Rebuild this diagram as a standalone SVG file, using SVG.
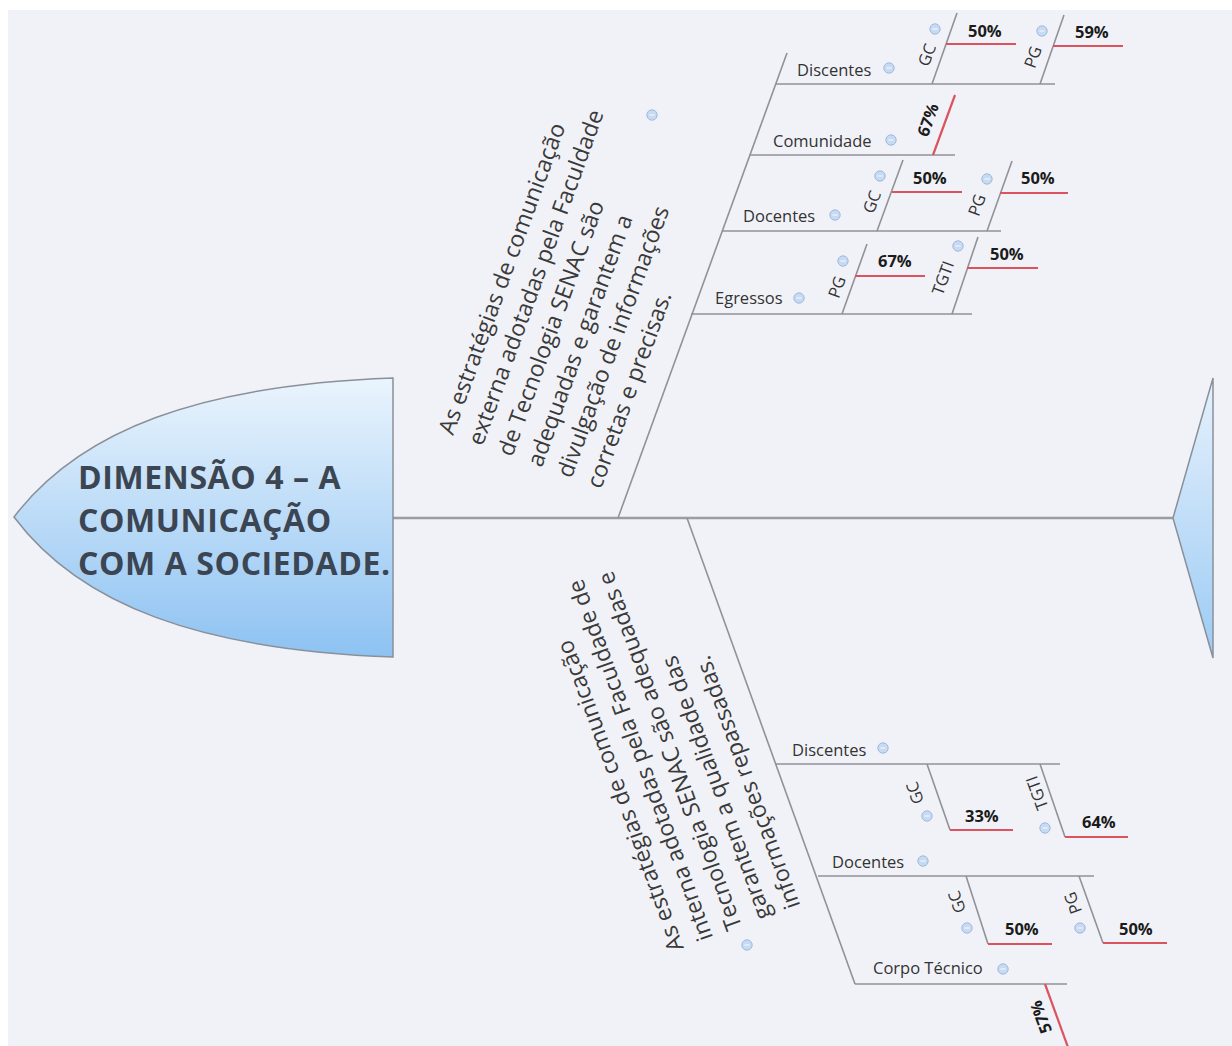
<svg xmlns="http://www.w3.org/2000/svg" xmlns:xlink="http://www.w3.org/1999/xlink" width="1232" height="1046" viewBox="0 0 1232 1046">
<style>
.bone{stroke:#8f9297;stroke-width:1.6;fill:none}
.spine{stroke:#9a9da2;stroke-width:2.5;fill:none}
.red{stroke:#dc5360;stroke-width:2.2;fill:none}
.lbl{font-family:"Open Sans","Noto Sans",sans-serif;font-size:16.5px;fill:#333}
.pct{font-family:"Open Sans","Noto Sans",sans-serif;font-size:16.5px;font-weight:bold;fill:#1b1b1b}
.big{font-family:"Open Sans","Noto Sans",sans-serif;font-size:23px;fill:#3a3a3a}
.title{font-family:"Open Sans","Noto Sans",sans-serif;font-size:32px;font-weight:bold;letter-spacing:0.6px;fill:#3c4552}
.mid{text-anchor:middle}
</style>
<defs>
<linearGradient id="headGrad" x1="0" y1="0" x2="0" y2="1">
<stop offset="0" stop-color="#eaf4fd"/>
<stop offset="1" stop-color="#8dc2f2"/>
</linearGradient>
<linearGradient id="tailGrad" x1="0" y1="0" x2="0" y2="1">
<stop offset="0" stop-color="#e6f1fc"/>
<stop offset="1" stop-color="#9ccbf4"/>
</linearGradient>
<g id="ic"><circle r="5.2" fill="#c7daf1" stroke="#9fbbe2" stroke-width="1"/><line x1="-2.6" y1="0" x2="2.6" y2="0" stroke="#eef4fc" stroke-width="1.3"/></g>
</defs>
<rect x="0" y="0" width="1232" height="1046" fill="#ffffff"/>
<rect x="8" y="10" width="1224" height="1036" fill="#f1f2f7"/>

<g id="connectors">
<line class="spine" x1="393" y1="518" x2="1173" y2="518"/>
<line class="bone" x1="618" y1="518" x2="787" y2="53"/>
<line class="bone" x1="687" y1="518" x2="855" y2="984"/>
</g>

<g id="head">
<path d="M14,517 C80,430 200,385 393,378 L393,657 C200,650 80,605 14,517 Z" fill="url(#headGrad)" stroke="#8a9099" stroke-width="1.5"/>
<text class="title" x="78" y="489">DIMENSÃO 4 – A</text>
<text class="title" x="78" y="532">COMUNICAÇÃO</text>
<text class="title" x="78" y="575">COM A SOCIEDADE.</text>
</g>

<g id="tail">
<path d="M1173,518 L1213,378 L1213,658 Z" fill="url(#tailGrad)" stroke="#8a9099" stroke-width="1.5"/>
</g>

<g id="upper-cause">
<g transform="translate(453,436) rotate(-70)">
<text class="big" x="0" y="0">As estratégias de comunicação</text>
<text class="big" x="0" y="31.5">externa adotadas pela Faculdade</text>
<text class="big" x="0" y="63">de Tecnologia SENAC são</text>
<text class="big" x="0" y="94.5">adequadas e garantem a</text>
<text class="big" x="0" y="126">divulgação de informações</text>
<text class="big" x="0" y="157.5">corretas e precisas.</text>
</g>
<use xlink:href="#ic" x="652" y="115"/>
</g>

<g id="u-discentes">
<line class="bone" x1="776" y1="84" x2="1055" y2="84"/>
<text class="lbl" x="797" y="76">Discentes</text>
<use xlink:href="#ic" x="889" y="68"/>
</g>
<g id="u-discentes-gc">
<line class="bone" x1="932" y1="84" x2="957" y2="13"/>
<line class="red" x1="946" y1="44" x2="1016" y2="44"/>
<text class="pct" x="968" y="37">50%</text>
<text class="lbl mid" transform="translate(927,55) rotate(-70)" dy="0.35em">GC</text>
<use xlink:href="#ic" x="935" y="29"/>
</g>
<g id="u-discentes-pg">
<line class="bone" x1="1040" y1="84" x2="1064" y2="15"/>
<line class="red" x1="1053" y1="46" x2="1123" y2="46"/>
<text class="pct" x="1075" y="38">59%</text>
<text class="lbl mid" transform="translate(1033,57) rotate(-70)" dy="0.35em">PG</text>
<use xlink:href="#ic" x="1042" y="31"/>
</g>

<g id="u-comunidade">
<line class="bone" x1="750" y1="155" x2="955" y2="155"/>
<text class="lbl" x="773" y="147">Comunidade</text>
<use xlink:href="#ic" x="891" y="140"/>
<line class="red" x1="933" y1="155" x2="955" y2="95"/>
<text class="pct mid" transform="translate(928,120) rotate(-70)" dy="0.35em">67%</text>
</g>

<g id="u-docentes">
<line class="bone" x1="722" y1="231" x2="1001" y2="231"/>
<text class="lbl" x="743" y="222">Docentes</text>
<use xlink:href="#ic" x="835" y="215"/>
</g>
<g id="u-docentes-gc">
<line class="bone" x1="877" y1="231" x2="903" y2="160"/>
<line class="red" x1="892" y1="192" x2="962" y2="192"/>
<text class="pct" x="913" y="184">50%</text>
<text class="lbl mid" transform="translate(872,202) rotate(-70)" dy="0.35em">GC</text>
<use xlink:href="#ic" x="880" y="176"/>
</g>
<g id="u-docentes-pg">
<line class="bone" x1="987" y1="231" x2="1012" y2="161"/>
<line class="red" x1="1000" y1="193" x2="1068" y2="193"/>
<text class="pct" x="1021" y="184">50%</text>
<text class="lbl mid" transform="translate(977,205) rotate(-70)" dy="0.35em">PG</text>
<use xlink:href="#ic" x="987" y="179"/>
</g>

<g id="u-egressos">
<line class="bone" x1="691" y1="314" x2="972" y2="314"/>
<text class="lbl" x="715" y="304">Egressos</text>
<use xlink:href="#ic" x="799" y="298"/>
</g>
<g id="u-egressos-pg">
<line class="bone" x1="842" y1="314" x2="867" y2="244"/>
<line class="red" x1="855" y1="276" x2="925" y2="276"/>
<text class="pct" x="878" y="267">67%</text>
<text class="lbl mid" transform="translate(837,287) rotate(-70)" dy="0.35em">PG</text>
<use xlink:href="#ic" x="843" y="261"/>
</g>
<g id="u-egressos-tgti">
<line class="bone" x1="952" y1="314" x2="978" y2="237"/>
<line class="red" x1="967" y1="268" x2="1038" y2="268"/>
<text class="pct" x="990" y="260">50%</text>
<text class="lbl mid" transform="translate(943,278) rotate(-70)" dy="0.35em">TGTI</text>
<use xlink:href="#ic" x="958" y="246"/>
</g>

<g id="lower-cause">
<g transform="translate(684,948) rotate(-110)">
<text class="big" x="0" y="0">As estratégias de comunicação</text>
<text class="big" x="0" y="31">interna adotadas pela Faculdade de</text>
<text class="big" x="0" y="62">Tecnologia SENAC são adequadas e</text>
<text class="big" x="0" y="93">garantem a qualidade das</text>
<text class="big" x="0" y="124">informações repassadas.</text>
</g>
<use xlink:href="#ic" x="747" y="945"/>
</g>

<g id="l-discentes">
<line class="bone" x1="776" y1="764" x2="1060" y2="764"/>
<text class="lbl" x="792" y="756">Discentes</text>
<use xlink:href="#ic" x="883" y="748"/>
</g>
<g id="l-discentes-gc">
<line class="bone" x1="927" y1="764" x2="950" y2="830"/>
<line class="red" x1="950" y1="830" x2="1013" y2="830"/>
<text class="pct" x="965" y="822">33%</text>
<text class="lbl mid" transform="translate(915,793) rotate(-110)" dy="0.35em">GC</text>
<use xlink:href="#ic" x="927" y="816"/>
</g>
<g id="l-discentes-tgti">
<line class="bone" x1="1040" y1="764" x2="1065" y2="837"/>
<line class="red" x1="1065" y1="837" x2="1128" y2="837"/>
<text class="pct" x="1082" y="828">64%</text>
<text class="lbl mid" transform="translate(1037,793) rotate(-110)" dy="0.35em">TGTI</text>
<use xlink:href="#ic" x="1045" y="828"/>
</g>

<g id="l-docentes">
<line class="bone" x1="818" y1="876" x2="1094" y2="876"/>
<text class="lbl" x="832" y="868">Docentes</text>
<use xlink:href="#ic" x="923" y="861"/>
</g>
<g id="l-docentes-gc">
<line class="bone" x1="966" y1="876" x2="988" y2="944"/>
<line class="red" x1="988" y1="944" x2="1052" y2="944"/>
<text class="pct" x="1005" y="935">50%</text>
<text class="lbl mid" transform="translate(957,902) rotate(-110)" dy="0.35em">GC</text>
<use xlink:href="#ic" x="967" y="928"/>
</g>
<g id="l-docentes-pg">
<line class="bone" x1="1079" y1="876" x2="1103" y2="943"/>
<line class="red" x1="1103" y1="943" x2="1167" y2="943"/>
<text class="pct" x="1119" y="935">50%</text>
<text class="lbl mid" transform="translate(1073,903) rotate(-110)" dy="0.35em">PG</text>
<use xlink:href="#ic" x="1080" y="928"/>
</g>

<g id="l-corpo-tecnico">
<line class="bone" x1="855" y1="984" x2="1067" y2="984"/>
<text class="lbl" x="873" y="974">Corpo Técnico</text>
<use xlink:href="#ic" x="1003" y="969"/>
<line class="red" x1="1045" y1="984" x2="1069" y2="1050"/>
<text class="pct mid" transform="translate(1041,1017) rotate(-110)" dy="0.35em">57%</text>
</g>
</svg>
